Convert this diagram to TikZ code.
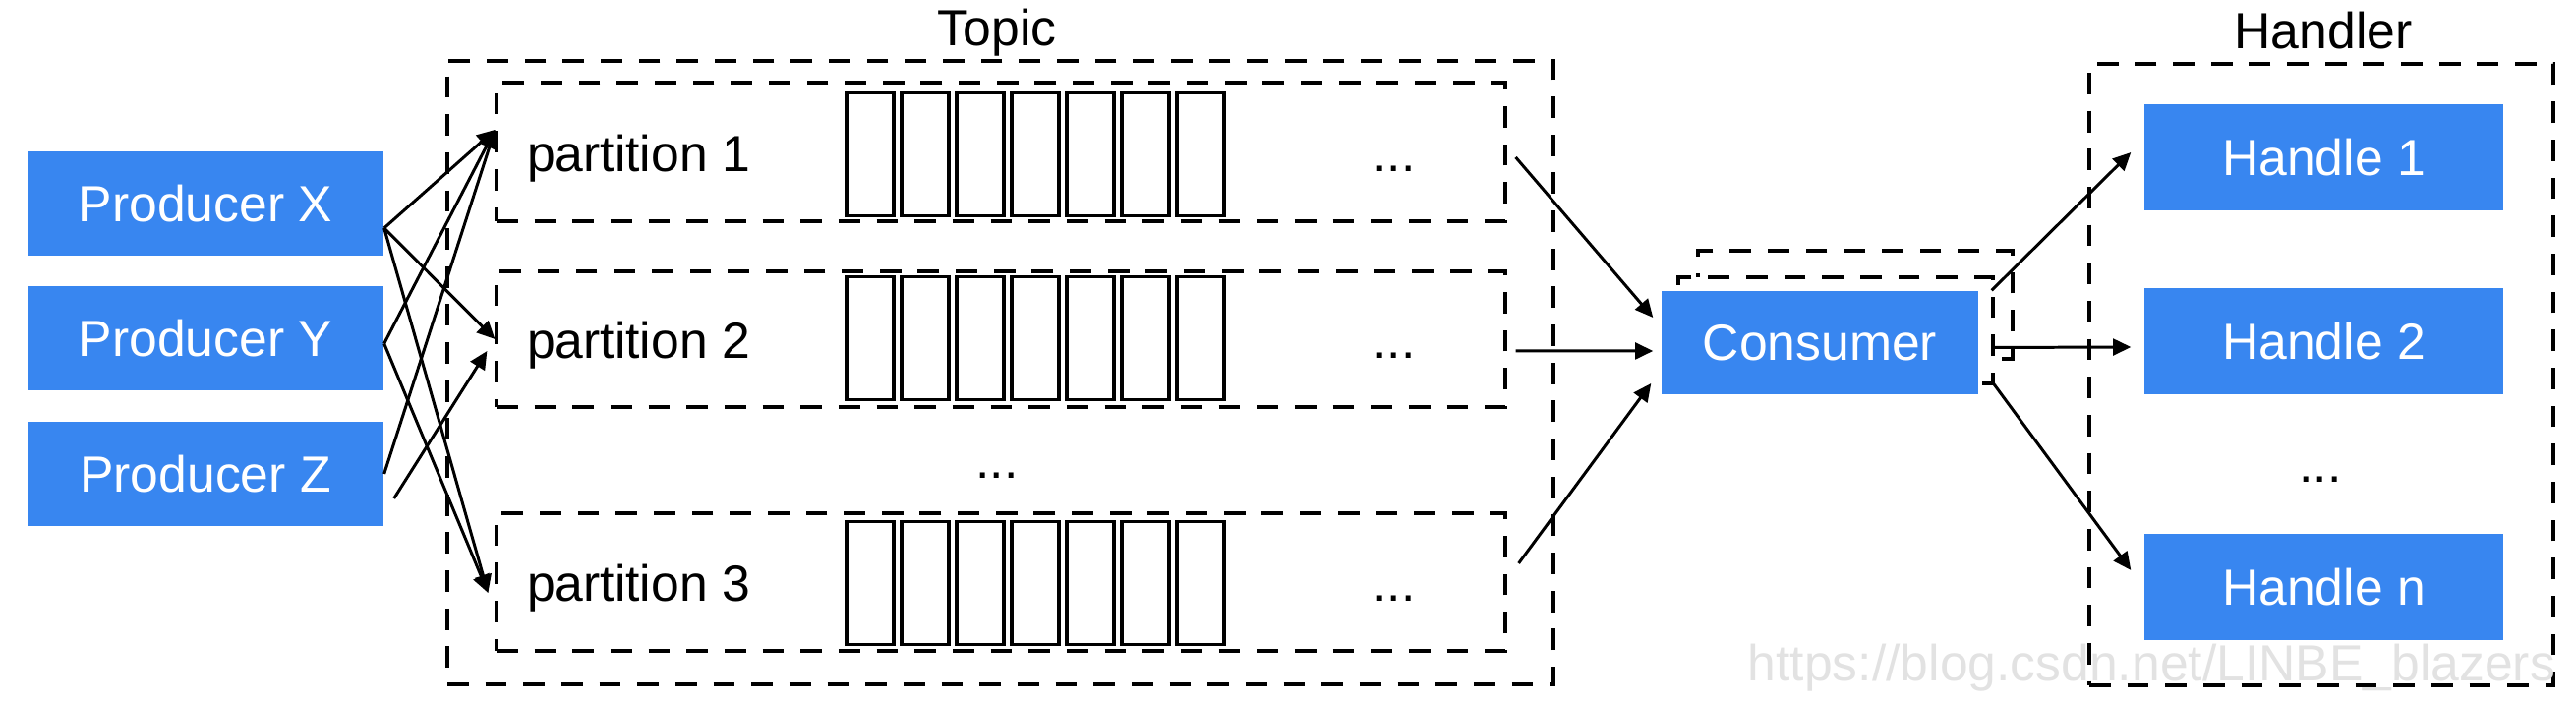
\documentclass[tikz,border=0pt]{standalone}
\usepackage{fontspec}
\setmainfont{Liberation Sans}
\definecolor{kblue}{RGB}{56,134,240}
\definecolor{kmark}{RGB}{226,226,226}
\usetikzlibrary{arrows.meta,positioning}

\begin{document}
\begin{tikzpicture}[
  font=\fontsize{14.7}{17}\selectfont,
  bluebox/.style={
    rectangle, fill=kblue, text=white, inner sep=0pt,
    minimum width=3.62cm, minimum height=1.06cm
  },
  frame/.style={
    rectangle, draw, line width=0.9pt, inner sep=0pt,
    dash pattern=on 6.2pt off 4.8pt
  },
  partbox/.style={frame, minimum width=10.26cm, minimum height=1.40cm},
  cell/.style={
    rectangle, draw, line width=1.1pt, inner sep=0pt,
    minimum width=0.48cm, minimum height=1.25cm
  },
  dots/.style={anchor=base, inner sep=0pt},
  conn/.style={-{Triangle[length=5.2pt,width=4.8pt]}, line width=0.85pt}
]
\useasboundingbox (0,0) rectangle (26.2,7.14);

% Producers
\node[bluebox] (prodX) at (2.09,5.07) {Producer X};
\node[bluebox] (prodY) at (2.09,3.70) {Producer Y};
\node[bluebox] (prodZ) at (2.09,2.32) {Producer Z};

% Topic with its partitions
\node[frame, minimum width=11.25cm, minimum height=6.34cm] (topic) at (10.175,3.35) {};
\node[anchor=base] (topiclbl) at (10.14,6.67) {Topic};

\node[partbox, minimum height=1.41cm] (part1) at (10.18,5.595) {};
\node[partbox, minimum height=1.38cm] (part2) at (10.18,3.69) {};
\node[partbox] (part3) at (10.18,1.22) {};

\node[anchor=base west, inner sep=0pt] (plbl1) at ([xshift=0.32cm,yshift=-0.2cm]part1.west) {partition 1};
\node[anchor=base west, inner sep=0pt] (plbl2) at ([xshift=0.32cm,yshift=-0.2cm]part2.west) {partition 2};
\node[anchor=base west, inner sep=0pt] (plbl3) at ([xshift=0.32cm,yshift=-0.2cm]part3.west) {partition 3};

% message cells
\foreach \r/\y in {1/5.57, 2/3.70, 3/1.21}
  \foreach \i in {0,...,6}
    \node[cell] (cell\r\i) at ({8.85+0.56*\i},\y) {};

\node[dots] (pdots1) at (14.18,5.39) {...};
\node[dots] (pdots2) at (14.18,3.49) {...};
\node[dots] (pdots3) at (14.18,1.02) {...};
\node[dots] (tdots) at (10.14,2.27) {...};

% Consumer (stacked)
\node[frame, fill=white, minimum width=3.20cm, minimum height=1.10cm] (cons2) at (18.87,4.04) {};
\node[frame, fill=white, minimum width=3.20cm, minimum height=1.08cm] (cons1) at (18.67,3.78) {};
\node[bluebox, minimum width=3.22cm, minimum height=1.05cm] (cons) at (18.51,3.655) {Consumer};

% Handler
\node[frame, minimum width=4.72cm, minimum height=6.32cm] (handler) at (23.61,3.33) {};
\node[anchor=base] (handlerlbl) at (23.63,6.64) {Handler};

\node[bluebox, minimum width=3.65cm, minimum height=1.08cm] (hnd1) at (23.635,5.54) {Handle 1};
\node[bluebox, minimum width=3.65cm, minimum height=1.08cm] (hnd2) at (23.635,3.67) {Handle 2};
\node[bluebox, minimum width=3.65cm, minimum height=1.08cm] (hndn) at (23.635,1.17) {Handle n};
\node[dots] (hdots) at (23.60,2.23) {...};

% producers -> partitions
\draw[conn] ([yshift=-0.25cm]prodX.east) -- ([yshift=0.225cm]part1.west);
\draw[conn] ([yshift=-0.25cm]prodX.east) -- (part2.west);
\draw[conn] ([yshift=-0.25cm]prodX.east) -- ([xshift=-0.07cm,yshift=-0.11cm]part3.west);
\draw[conn] ([yshift=-0.055cm]prodY.east) -- ([yshift=0.225cm]part1.west);
\draw[conn] ([yshift=-0.055cm]prodY.east) -- ([xshift=-0.07cm,yshift=-0.11cm]part3.west);
\draw[conn] (prodZ.east) -- ([yshift=0.225cm]part1.west);
\draw[conn] ([xshift=0.1cm,yshift=-0.25cm]prodZ.east) -- ([xshift=-0.08cm,yshift=-0.12cm]part2.west);

% partitions -> consumer
\draw[conn] ([xshift=0.09cm,yshift=-0.055cm]part1.east) -- ([xshift=-0.08cm,yshift=0.255cm]cons.west);
\draw[conn] ([xshift=0.09cm,yshift=-0.12cm]part2.east) -- ([xshift=-0.08cm,yshift=-0.085cm]cons.west);
\draw[conn] ([xshift=0.12cm,yshift=0.19cm]part3.east) -- ([xshift=-0.10cm,yshift=-0.415cm]cons.west);

% consumer -> handles
\draw[conn] ([xshift=0.13cm]cons.north east) -- ([xshift=-0.13cm,yshift=0.05cm]hnd1.west);
\draw[conn] ([xshift=0.13cm,yshift=-0.05cm]cons.east) -- ([xshift=-0.13cm,yshift=-0.06cm]hnd2.west);
\draw[conn] ([xshift=0.13cm,yshift=0.14cm]cons.south east) -- ([xshift=-0.13cm,yshift=0.17cm]hndn.west);

% watermark
\node[anchor=base west, inner sep=0pt, text=kmark] (wmark) at (17.77,0.21) {https://blog.csdn.net/LINBE\_blazers};
\end{tikzpicture}
\end{document}
